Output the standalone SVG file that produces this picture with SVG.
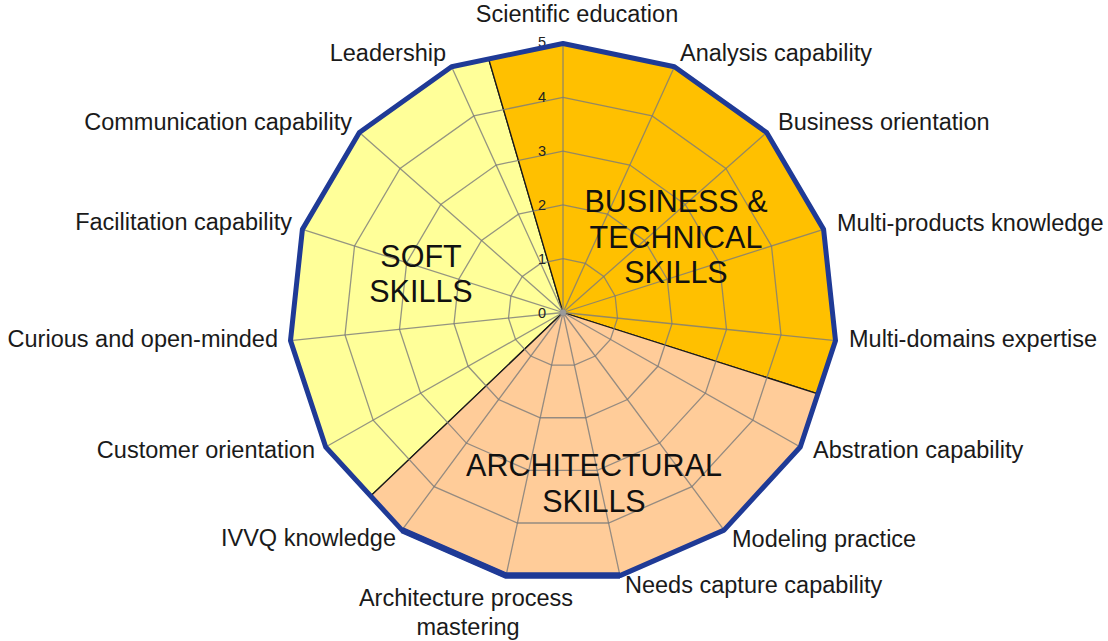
<svg xmlns="http://www.w3.org/2000/svg" xmlns:xlink="http://www.w3.org/1999/xlink" width="1108" height="641" viewBox="0 0 1108 641">
<style>
.lbl{font-family:"Liberation Sans",Arial,sans-serif;font-size:23.5px;fill:#1a1a1a}
.big{font-family:"Liberation Sans",Arial,sans-serif;font-size:30.5px;fill:#111;text-anchor:middle}
.num{font-family:"Liberation Sans",Arial,sans-serif;font-size:14.5px;fill:#222;text-anchor:end}
.grid{fill:none;stroke:#7a7a7a;stroke-width:1.3;stroke-opacity:0.8;vector-effect:non-scaling-stroke}
.sector{stroke:#1a1a1a;stroke-width:1.3;stroke-linejoin:round}
</style>
<defs>
<polygon id="ring" points="0,-1 0.40674,-0.91355 0.74314,-0.66913 0.95106,-0.30902 0.99452,0.10453 0.86603,0.5 0.58779,0.80902 0.20791,0.97815 -0.20791,0.97815 -0.58779,0.80902 -0.86603,0.5 -0.99452,0.10453 -0.95106,-0.30902 -0.74314,-0.66913 -0.40674,-0.91355" class="grid"/>
</defs>
<rect width="1108" height="641" fill="#ffffff"/>

<g id="sector-soft">
<path class="sector" fill="#FFFF99" d="M563,312.5 L370.7,496 L325.71,447 L290.5,340.62 L302.41,229.37 L359.38,132.5 L451.55,66.76 L488.7,59 Z"/>
</g>
<g id="sector-business">
<path class="sector" fill="#FFC000" d="M563,312.5 L488.7,59 L563,43.5 L674.45,66.76 L766.62,132.5 L823.59,229.37 L835.5,340.62 L817.9,393.8 Z"/>
</g>
<g id="sector-architectural">
<path class="sector" fill="#FFCC99" d="M563,312.5 L817.9,393.8 L800.29,447 L724.05,530.13 L619.97,575.62 L506.03,575.62 L401.95,530.13 L370.7,496 Z"/>
</g>

<g id="grid">
<use xlink:href="#ring" href="#ring" transform="translate(563,312.5) scale(54.8,53.8)"/>
<use xlink:href="#ring" href="#ring" transform="translate(563,312.5) scale(109.6,107.6)"/>
<use xlink:href="#ring" href="#ring" transform="translate(563,312.5) scale(164.4,161.4)"/>
<use xlink:href="#ring" href="#ring" transform="translate(563,312.5) scale(219.2,215.2)"/>
<use xlink:href="#ring" href="#ring" transform="translate(563,312.5) scale(274,269)"/>
<path class="grid" transform="translate(563,312.5) scale(274,269)" d="M0,0 L0,-1 M0,0 L0.40674,-0.91355 M0,0 L0.74314,-0.66913 M0,0 L0.95106,-0.30902 M0,0 L0.99452,0.10453 M0,0 L0.86603,0.5 M0,0 L0.58779,0.80902 M0,0 L0.20791,0.97815 M0,0 L-0.20791,0.97815 M0,0 L-0.58779,0.80902 M0,0 L-0.86603,0.5 M0,0 L-0.99452,0.10453 M0,0 L-0.95106,-0.30902 M0,0 L-0.74314,-0.66913 M0,0 L-0.40674,-0.91355"/>
<circle cx="563" cy="312.5" r="3" fill="#9a9a9a"/>
</g>

<g id="scale-labels">
<text class="num" x="546" y="317.5">0</text>
<text class="num" x="546" y="263.7">1</text>
<text class="num" x="546" y="209.9">2</text>
<text class="num" x="546" y="156.1">3</text>
<text class="num" x="546" y="102.3">4</text>
<text class="num" x="546" y="47">5</text>
</g>

<g id="outline">
<polygon points="563,43.5 674.45,66.76 766.62,132.5 823.59,229.37 835.5,340.62 800.29,447 724.05,530.13 619.97,575.62 506.03,575.62 401.95,530.13 325.71,447 290.5,340.62 302.41,229.37 359.38,132.5 451.55,66.76" fill="none" stroke="#1F3A96" stroke-width="5" stroke-linejoin="round"/>
<polyline points="401.95,530.13 506.03,575.62 619.97,575.62" fill="none" stroke="#1F3A96" stroke-width="6.5" stroke-linejoin="round"/>
</g>

<g id="axis-labels">
<text class="lbl" x="577" y="22" text-anchor="middle">Scientific education</text>
<text class="lbl" x="680" y="61">Analysis capability</text>
<text class="lbl" x="778" y="130">Business orientation</text>
<text class="lbl" x="837" y="231">Multi-products knowledge</text>
<text class="lbl" x="849" y="347">Multi-domains expertise</text>
<text class="lbl" x="813" y="458">Abstration capability</text>
<text class="lbl" x="732" y="547">Modeling practice</text>
<text class="lbl" x="625" y="593">Needs capture capability</text>
<text class="lbl" x="466" y="606" text-anchor="middle">Architecture process</text>
<text class="lbl" x="468" y="635" text-anchor="middle">mastering</text>
<text class="lbl" x="396" y="546" text-anchor="end">IVVQ knowledge</text>
<text class="lbl" x="315" y="458" text-anchor="end">Customer orientation</text>
<text class="lbl" x="278" y="347" text-anchor="end">Curious and open-minded</text>
<text class="lbl" x="292" y="230" text-anchor="end">Facilitation capability</text>
<text class="lbl" x="352" y="130" text-anchor="end">Communication capability</text>
<text class="lbl" x="446" y="61" text-anchor="end">Leadership</text>
</g>

<g id="group-labels">
<text class="big" x="676" y="212">BUSINESS &amp;</text>
<text class="big" x="676" y="248">TECHNICAL</text>
<text class="big" x="676" y="283">SKILLS</text>
<text class="big" x="421" y="267">SOFT</text>
<text class="big" x="421" y="302">SKILLS</text>
<text class="big" x="594" y="476">ARCHITECTURAL</text>
<text class="big" x="594" y="512">SKILLS</text>
</g>
</svg>
